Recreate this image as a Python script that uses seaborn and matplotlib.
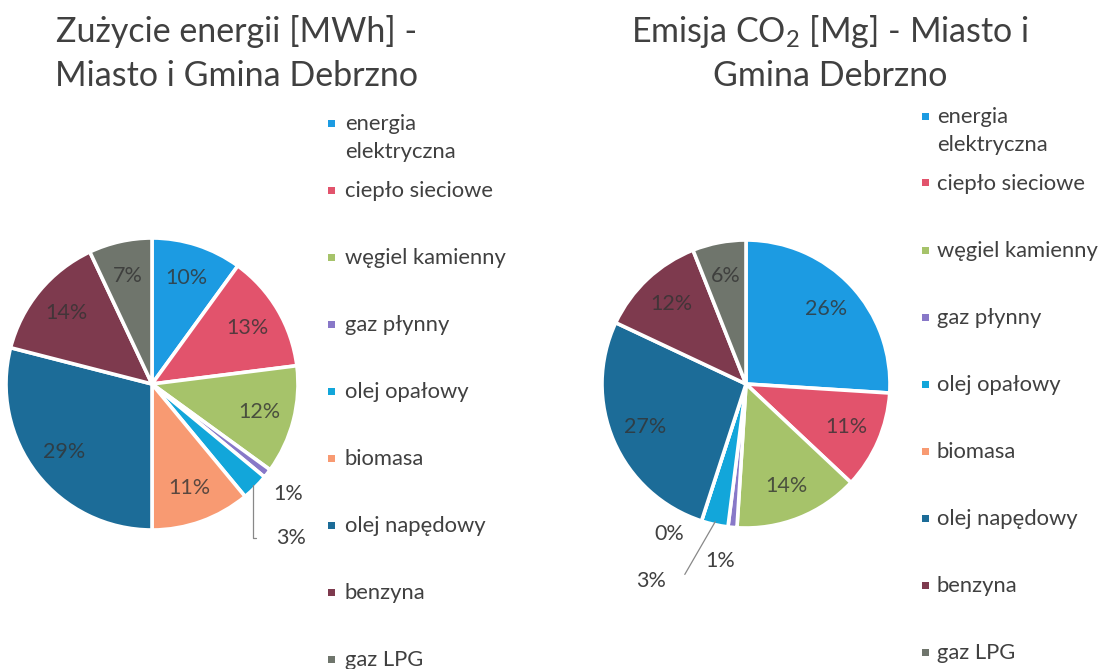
import numpy as np
import matplotlib
matplotlib.use("Agg")
import matplotlib.pyplot as plt
from matplotlib.patches import Rectangle
import seaborn as sns

sns.set_theme(style="white")
plt.rcParams["font.family"] = ["Lato", "DejaVu Sans"]
plt.rcParams["mathtext.fontset"] = "custom"
plt.rcParams["mathtext.rm"] = "Lato"

categories = ["energia\nelektryczna", "ciepło sieciowe", "węgiel kamienny",
              "gaz płynny", "olej opałowy", "biomasa", "olej napędowy",
              "benzyna", "gaz LPG"]
energy_pct = [10, 13, 12, 1, 3, 11, 29, 14, 7]
co2_pct = [26, 11, 14, 1, 3, 0, 27, 12, 6]
colors = ["#1C9BE2", "#E2536C", "#A6C36A", "#8878C8", "#12A6DA",
          "#F89A72", "#1C6C98", "#7E3A4E", "#6F756C"]
palette = sns.color_palette(colors)

title_left = ["Zużycie energii [MWh] -", "Miasto i Gmina Debrzno"]
title_right = [r"Emisja CO$_\mathregular{2}$ [Mg] - Miasto i", "Gmina Debrzno"]

W, H = 1101, 669
fig = plt.figure(figsize=(W / 100, H / 100), dpi=100)
fig.patch.set_facecolor("white")
TXT = "#404040"
PCT_FS = 15.5


def px_axes(cx, cy, r):
    return fig.add_axes([(cx - r) / W, (H - cy - r) / H, 2 * r / W, 2 * r / H])


def draw_pie(ax, values, small):
    wedges, _ = ax.pie(values, colors=palette, startangle=90, counterclock=False,
                       wedgeprops=dict(edgecolor="white", linewidth=2.6))
    ax.set_xlim(-1, 1)
    ax.set_ylim(-1, 1)
    ax.set_aspect("auto")
    for i, (w, v) in enumerate(zip(wedges, values)):
        mid = np.deg2rad((w.theta1 + w.theta2) / 2)
        if i in small:
            dang, rr, leader = small[i]
            a = mid + np.deg2rad(dang)
            tx, ty = rr * np.cos(a), rr * np.sin(a)
            if leader:
                ex, ey = 0.98 * np.cos(mid), 0.98 * np.sin(mid)
                ax.annotate(f"{v}%", xy=(ex, ey), xytext=(tx, ty),
                            ha="center", va="center", fontsize=PCT_FS, color=TXT,
                            annotation_clip=False,
                            arrowprops=dict(arrowstyle="-", color="#888888", lw=0.9,
                                            shrinkA=12, shrinkB=0,
                                            connectionstyle=leader))
            else:
                ax.text(tx, ty, f"{v}%", ha="center", va="center",
                        fontsize=PCT_FS, color=TXT)
        else:
            r = 0.76
            ax.text(r * np.cos(mid), r * np.sin(mid), f"{v}%", ha="center",
                    va="center", fontsize=PCT_FS, color="#333333", alpha=0.8)


axL = px_axes(152, 384, 146)
draw_pie(axL, energy_pct, {3: (-1, 1.2, None),
                           4: (-3, 1.42, "angle,angleA=0,angleB=90,rad=0")})

axR = px_axes(746, 384, 144)
draw_pie(axR, co2_pct, {3: (-3, 1.24, None),
                        4: (-13, 1.52, "angle,angleA=0,angleB=60,rad=0"),
                        5: (-9, 1.17, None)})

# titles
for lines, cx in ((title_left, 237), (title_right, 830)):
    for j, line in enumerate(lines):
        fig.text(cx / W, 1 - (32 + 44 * j) / H, line, ha="center", va="center",
                 fontsize=24.5, color=TXT)


def draw_legend(mx, tx, y0, step):
    for i, (lab, c) in enumerate(zip(categories, palette)):
        y = y0 + step * i
        fig.patches.append(Rectangle(((mx - 3.5) / W, 1 - (y + 3.5) / H), 7 / W, 7 / H,
                                     transform=fig.transFigure, facecolor=c,
                                     edgecolor="none"))
        fig.text(tx / W, 1 - (y - 9) / H, lab, ha="left", va="top",
                 fontsize=15.8, color=TXT, linespacing=1.5)


draw_legend(331, 345, 123, 67)
draw_legend(925, 937, 116, 67)

fig.savefig("out.png", dpi=100, facecolor="white")
